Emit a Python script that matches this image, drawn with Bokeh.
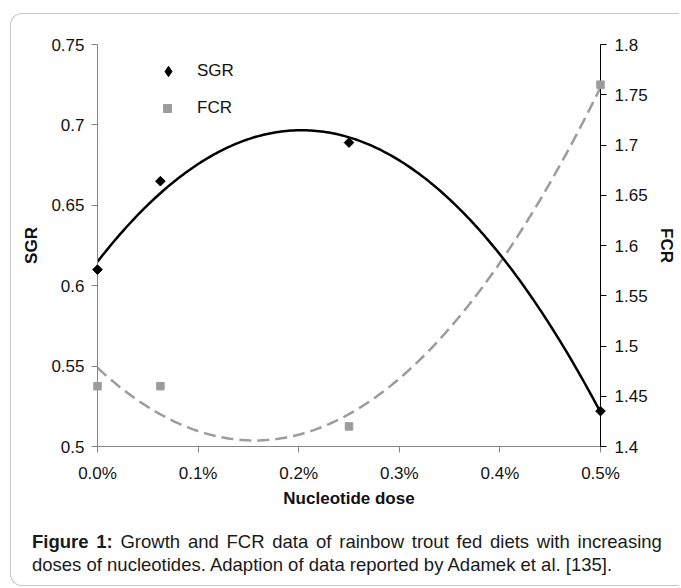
import numpy as np
from bokeh.plotting import figure
from bokeh.models import (Range1d, LinearAxis, FixedTicker, NumeralTickFormatter,
                          Legend, LegendItem, ColumnDataSource, Div)
from bokeh.layouts import column
from bokeh.embed import file_html
from bokeh.resources import INLINE

# ---------------- data ----------------
DOSE_PCT = [0.0, 0.0625, 0.25, 0.5]          # nucleotide dose, %
SGR = [0.610, 0.665, 0.689, 0.522]
FCR = [1.46, 1.46, 1.42, 1.76]

X_TICKS_PCT = [0.0, 0.1, 0.2, 0.3, 0.4, 0.5]
SGR_TICKS = [0.5, 0.55, 0.6, 0.65, 0.7, 0.75]
FCR_TICKS = [1.4, 1.45, 1.5, 1.55, 1.6, 1.65, 1.7, 1.75, 1.8]

X_LABEL = "Nucleotide dose"
LEFT_LABEL = "SGR"
RIGHT_LABEL = "FCR"
CAPTION_BOLD = "Figure 1:"
CAPTION_LINE1 = "Growth and FCR data of rainbow trout fed diets with increasing"
CAPTION_LINE2 = "doses of nucleotides. Adaption of data reported by Adamek et al. [135]."

FONT = "Liberation Sans"
GREY = "#9c9c9c"
AXIS_GREY = "#858585"

# second-order polynomial trend lines fitted to the data (as in the source chart)
x_fit_pct = np.linspace(DOSE_PCT[0], DOSE_PCT[-1], 201)
sgr_fit = np.polyval(np.polyfit(DOSE_PCT, SGR, 2), x_fit_pct)
fcr_fit = np.polyval(np.polyfit(DOSE_PCT, FCR, 2), x_fit_pct)

pts = ColumnDataSource(dict(x=[d / 100 for d in DOSE_PCT], sgr=SGR, fcr=FCR))
fit = ColumnDataSource(dict(x=x_fit_pct / 100, sgr=sgr_fit, fcr=fcr_fit))

# ---------------- figure ----------------
p = figure(width=668, height=516,
           x_range=Range1d(0, X_TICKS_PCT[-1] / 100),
           y_range=Range1d(SGR_TICKS[0], SGR_TICKS[-1]),
           output_backend="svg", toolbar_location=None,
           min_border_left=86, min_border_right=79,
           min_border_top=30, min_border_bottom=84)
p.extra_y_ranges = {"fcr": Range1d(FCR_TICKS[0], FCR_TICKS[-1])}
p.outline_line_color = None
p.xgrid.visible = False
p.ygrid.visible = False
p.background_fill_color = None
p.border_fill_color = None


def style_axis(ax, line_color):
    ax.axis_line_color = line_color
    ax.major_tick_line_color = line_color
    ax.minor_tick_line_color = None
    ax.major_tick_in = 0
    ax.major_tick_out = 6
    ax.major_label_text_font = FONT
    ax.major_label_text_font_size = "17px"
    ax.major_label_text_color = "#111111"
    ax.axis_label_text_font = FONT
    ax.axis_label_text_font_size = "17px"
    ax.axis_label_text_font_style = "bold"
    ax.axis_label_text_color = "#111111"


xax = p.below[0]
style_axis(xax, AXIS_GREY)
xax.ticker = FixedTicker(ticks=[t / 100 for t in X_TICKS_PCT])
xax.formatter = NumeralTickFormatter(format="0.0%")
xax.axis_label = X_LABEL
xax.major_label_standoff = 11
xax.axis_label_standoff = 3

lax = p.left[0]
style_axis(lax, AXIS_GREY)
lax.ticker = FixedTicker(ticks=SGR_TICKS)
lax.formatter = NumeralTickFormatter(format="0.0[0]")
lax.axis_label = LEFT_LABEL
lax.major_label_standoff = 7
lax.axis_label_standoff = 7

rax = LinearAxis(y_range_name="fcr", axis_label=RIGHT_LABEL)
style_axis(rax, "#000000")
rax.ticker = FixedTicker(ticks=FCR_TICKS)
rax.formatter = NumeralTickFormatter(format="0.0[0]")
rax.major_label_standoff = 8
rax.axis_label_standoff = 6
p.add_layout(rax, "right")

# trend lines
p.line("x", "fcr", source=fit, y_range_name="fcr", line_color=GREY,
       line_width=2.5, line_dash="12 6")
p.line("x", "sgr", source=fit, line_color="#000000", line_width=2.5)

# data points
r_fcr = p.scatter("x", "fcr", source=pts, y_range_name="fcr", marker="square",
                  size=7.5, fill_color=GREY, line_color=GREY, level="overlay")
p.scatter("x", "sgr", source=pts, marker="square", angle=np.pi / 4, size=6.8,
          fill_color="#000000", line_color="#000000", level="overlay")
# legend-only renderer (its single point is NaN, so nothing is drawn in the plot)
r_sgr_leg = p.scatter(x=[np.nan], y=[np.nan], marker="diamond",
                      fill_color="#000000", line_color="#000000")


def make_legend(item, glyph, loc, standoff):
    lg = Legend(items=[item], location=loc, glyph_width=glyph, glyph_height=glyph,
                label_standoff=standoff, padding=0, margin=0, spacing=0,
                border_line_color=None, background_fill_alpha=0,
                label_text_font=FONT, label_text_font_size="17px",
                label_text_color="#111111", label_height=glyph)
    p.add_layout(lg)


make_legend(LegendItem(label=LEFT_LABEL, renderers=[r_sgr_leg]), 26, (58, 362), 16)
make_legend(LegendItem(label=RIGHT_LABEL, renderers=[r_fcr]), 20, (60, 328), 20)

# caption: first line justified word by word, second line left-aligned
words1 = CAPTION_BOLD.split(" ") + CAPTION_LINE1.split(" ")
nbold = len(CAPTION_BOLD.split(" "))
line1 = "".join(
    f'<span style="font-weight:{"bold" if i < nbold else "normal"}">{w}</span>'
    for i, w in enumerate(words1))
caption = Div(
    text=(f'<div style="width:630px;font-family:\'{FONT}\';font-size:18.5px;'
          f'line-height:23px;color:#1a1a1a">'
          f'<div style="display:flex;justify-content:space-between;white-space:nowrap">{line1}</div>'
          f'<div style="white-space:nowrap">{CAPTION_LINE2}</div></div>'),
    width=630, height=46, margin=(0, 0, 9, 21))

layout = column(p, caption, margin=(13, 0, 0, 10),
                styles={"border-left": "1px solid #c6c6c6",
                        "border-top": "1px solid #c6c6c6",
                        "border-bottom": "1px solid #c6c6c6",
                        "border-top-left-radius": "12px",
                        "border-bottom-left-radius": "12px"})

open("out.html", "w").write(file_html(layout, INLINE))
